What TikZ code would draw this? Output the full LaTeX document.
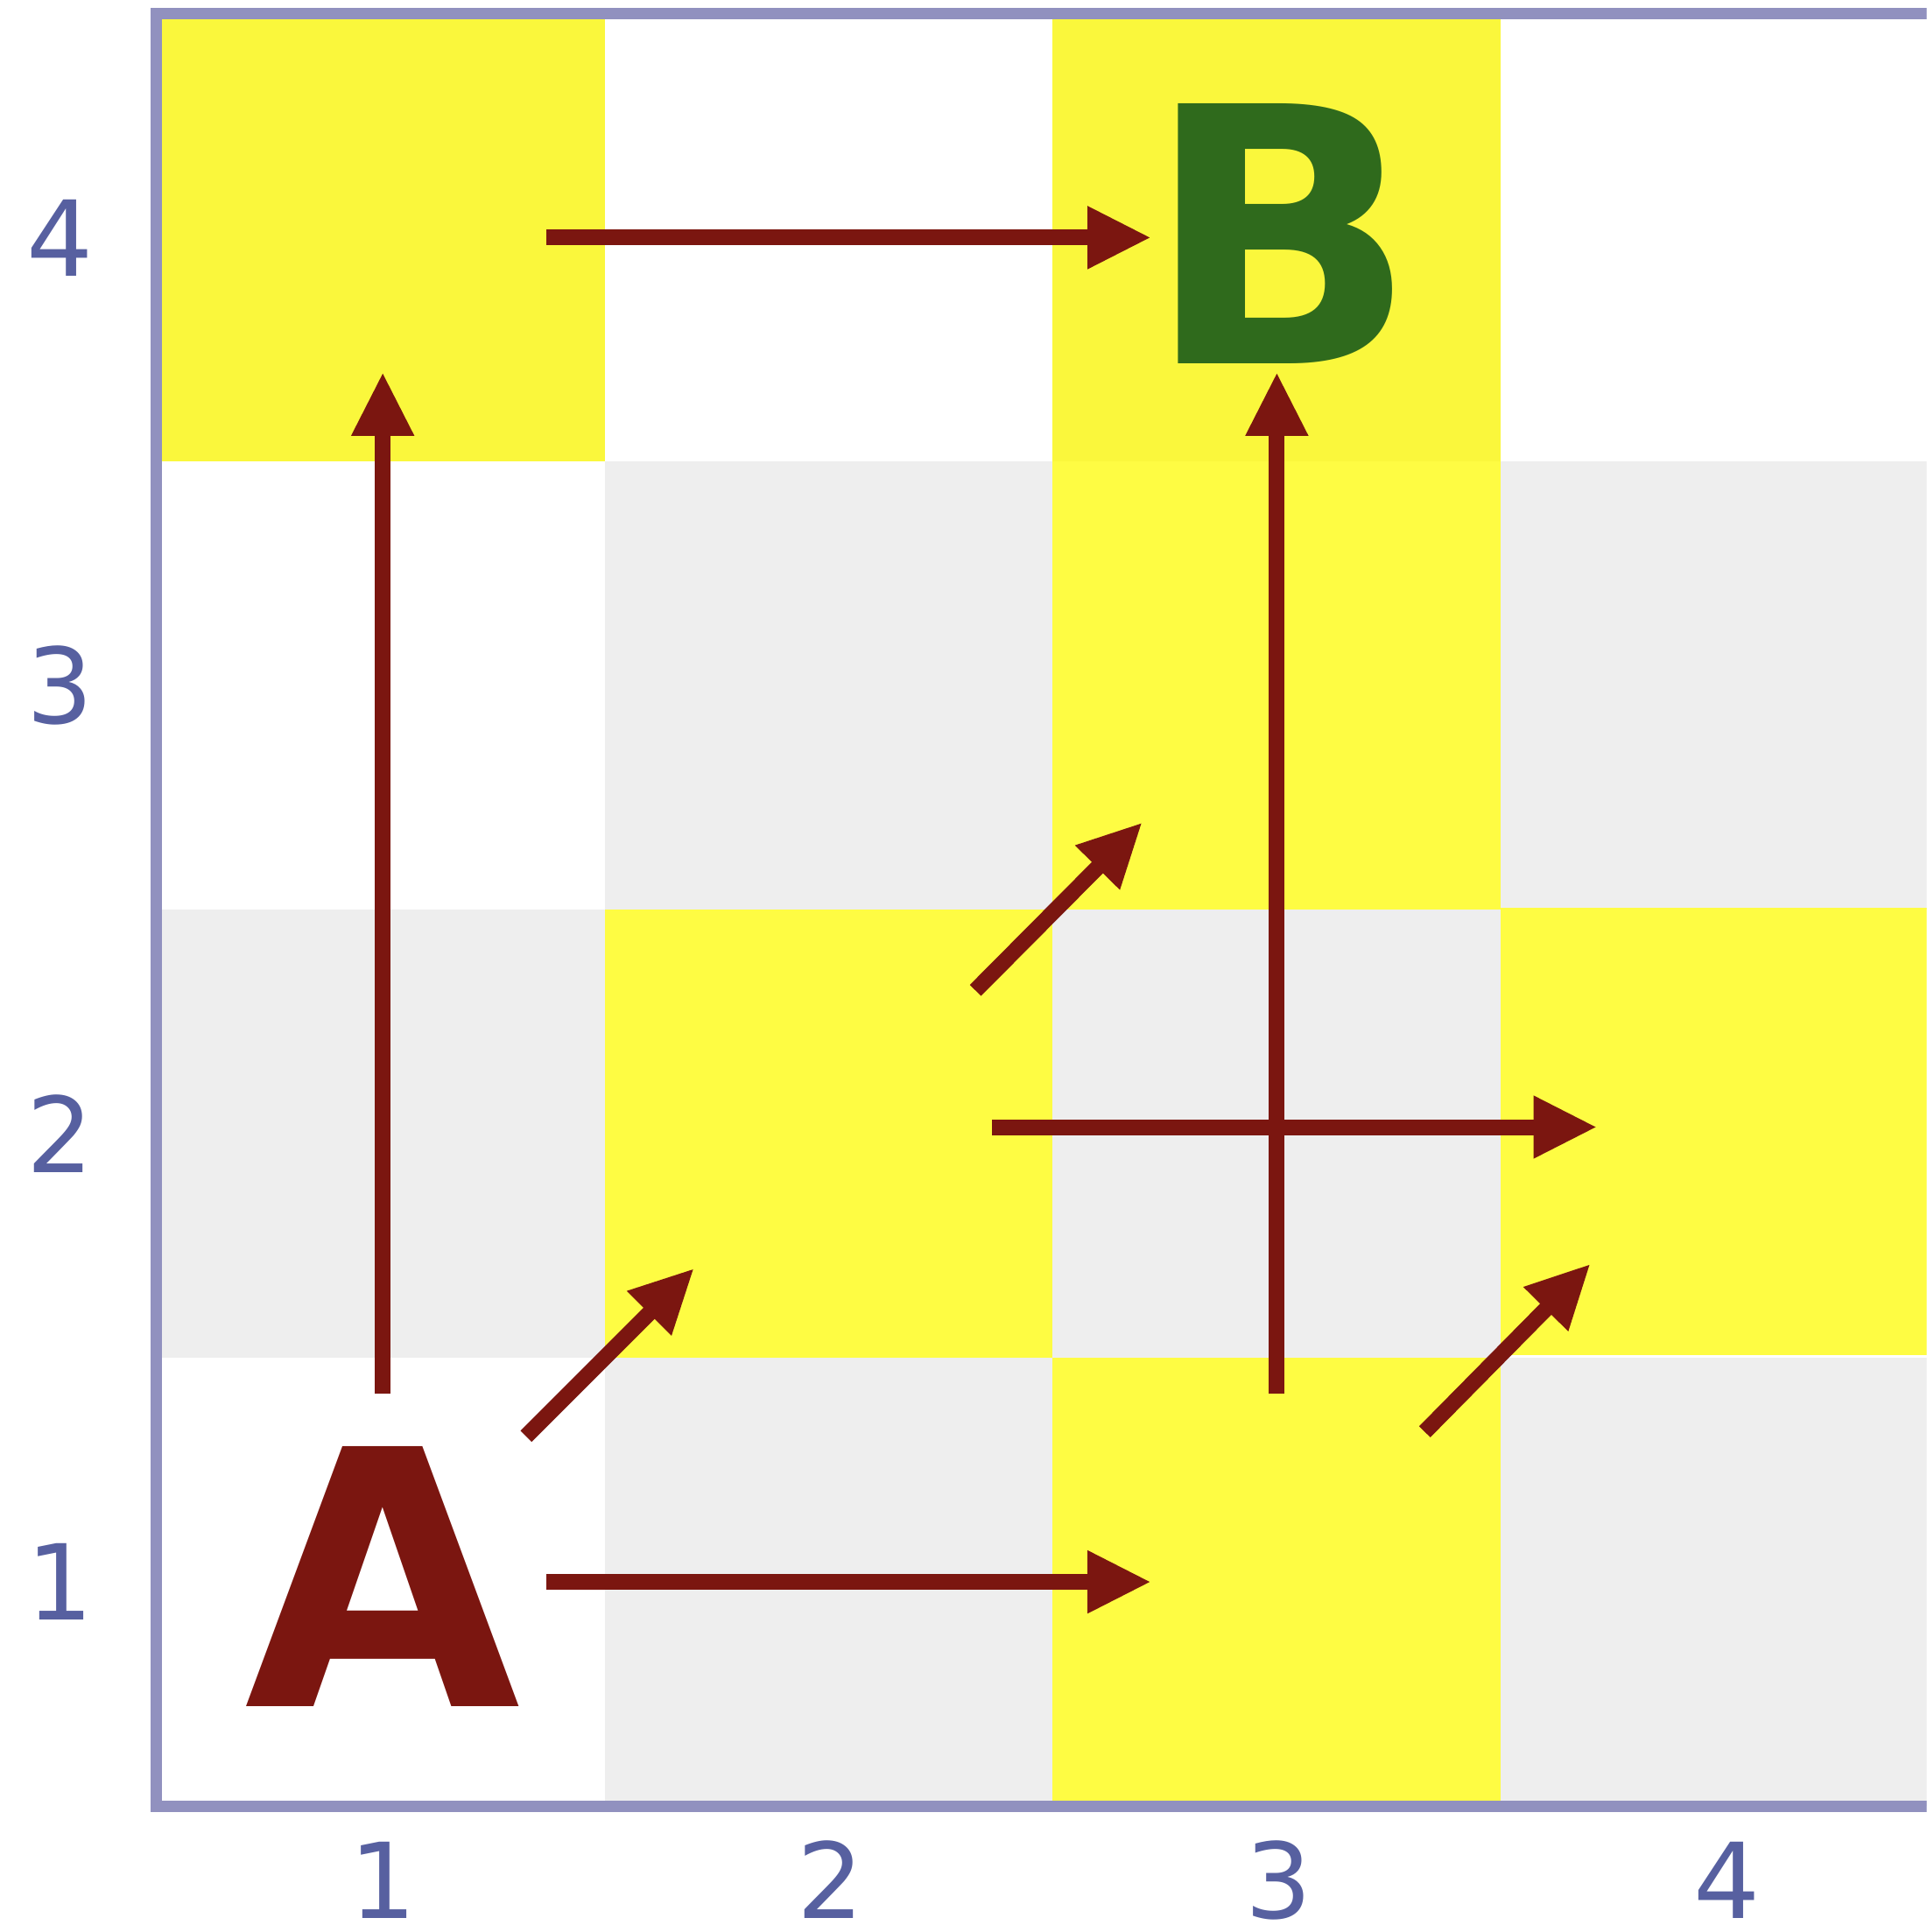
\documentclass[tikz,border=0pt]{standalone}
\usepackage{fontspec}
\usepackage{tikz}
\usetikzlibrary{arrows.meta, calc}
\newfontfamily\gridfont{DejaVu Sans}
\definecolor{frameblue}{HTML}{9191BF}
\definecolor{numblue}{HTML}{5760A0}
\definecolor{boardgray}{HTML}{EEEEEE}
\definecolor{topyellow}{HTML}{FAF73C}
\definecolor{pathyellow}{HTML}{FEFC43}
\definecolor{movered}{HTML}{7B1610}
\definecolor{goalgreen}{HTML}{2F6A1C}

\begin{document}
\begin{tikzpicture}[x=1cm,y=1cm,>={Triangle[length=8.1pt,width=7.4pt]},
  move/.style={->,draw=movered,line width=2pt},
  ticklabel/.style={inner sep=0pt,text=numblue,font=\gridfont\fontsize{13.3}{15}\selectfont},
  bigletter/.style={anchor=base,font=\gridfont\bfseries\fontsize{45.3}{50}\selectfont}]
\clip (-0.698,-0.5625) rectangle (7.9,8.0605);

% ==================== Board ====================
\begin{scope}
  % Checkerboard and square centres
  \foreach \i in {1,...,4}
    \foreach \j in {1,...,4} {
      \coordinate (c\i\j) at (2*\i-1,2*\j-1);
      \pgfmathparse{int(mod(\i+\j,2))}
      \ifnum\pgfmathresult=1
        \fill[boardgray] (2*\i-2,2*\j-2) rectangle ++(2,2);
      \fi
    }

  % Reachable squares
  \fill[topyellow] (0,6) rectangle (2,8);
  \fill[topyellow] (4,6) rectangle (6,8);
  \fill[pathyellow] (4,4) rectangle (6,6);
  \fill[pathyellow] (2,2) rectangle (4,4);
  \fill[pathyellow] (6,2.012) rectangle (8,4.008);
  \fill[pathyellow] (4,0) rectangle (6,2);

  % Row and column numbers
  \foreach \k in {1,...,4} {
    \node[ticklabel] (row\k) at (-0.43,2*\k-1) {\k};
    \node[ticklabel] (col\k) at (2*\k-0.99,-0.33) {\k};
  }

  % Frame
  \draw[frameblue,line width=1.45pt] (7.9,8) -- (0,8) -- (0,0) -- (7.9,0);
\end{scope}

% ==================== Start and goal ====================
\node[bigletter,text=movered] (A) at (1.01,0.442) {A};
\node[bigletter,text=goalgreen] (B) at (5.02,6.436) {B};

% ==================== Moves ====================
\begin{scope}
  % Straight moves
  \draw[move] ($(c11)+(0.01,0.84)$) -- ($(c14)+(0.01,-0.6)$);
  \draw[move] ($(c31)+(0,0.84)$) -- ($(c34)+(0,-0.6)$);
  \draw[move] ($(c14)+(0.74,0)$) -- ($(c34)+(-0.56,0)$);
  \draw[move] ($(c11)+(0.74,0)$) -- ($(c31)+(-0.56,0)$);
  \draw[move] ($(c22)+(0.73,0.03)$) -- ($(c42)+(-0.57,0.03)$);

  % Diagonal moves
  \draw[move] ($(c11)+(0.65,0.65)$) -- ($(c22)+(-0.6,-0.6)$);
  \draw[move] ($(c22)+(0.655,0.64)$) -- ($(c33)+(-0.6,-0.61)$);
  \draw[move] ($(c31)+(0.66,0.67)$) -- ($(c42)+(-0.6,-0.58)$);
\end{scope}

\end{tikzpicture}
\end{document}
